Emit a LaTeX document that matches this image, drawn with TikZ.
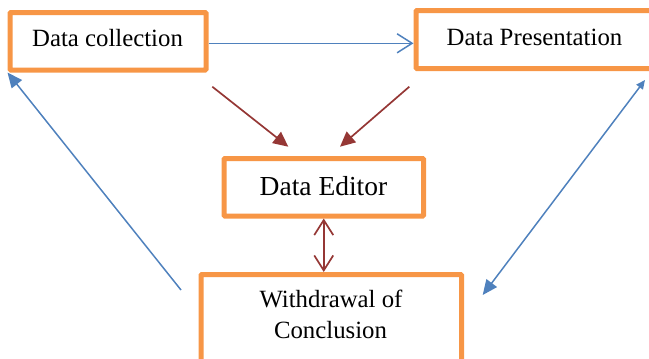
\documentclass[tikz,border=0pt]{standalone}
\usepackage{fontspec}
\setmainfont{Liberation Serif}
\usetikzlibrary{arrows.meta,calc}
\definecolor{boxorange}{HTML}{F79646}
\definecolor{lineblue}{HTML}{4F81BD}
\definecolor{linebrown}{HTML}{953735}
\begin{document}
\begin{tikzpicture}[x=1pt,y=-1pt,
  box/.style={draw=boxorange,line width=5pt,fill=white,inner sep=0pt,rounded corners=1pt},
  lbl/.style={anchor=base,inner sep=0pt,font=\fontsize{24.8}{31}\selectfont},
  blueline/.style={draw=lineblue,line width=1.5pt},
  brownline/.style={draw=linebrown,line width=1.7pt},
  openhead/.tip={Straight Barb[length=15pt,width=19pt]},
  bluehead/.tip={Triangle[length=15pt,width=13pt]},
  smallbluehead/.tip={Triangle[length=9pt,width=8pt]},
  brownhead/.tip={Triangle[length=15pt,width=14pt]}
]
\path[use as bounding box] (0,0) rectangle (649,359);
\clip (0,0) rectangle (649,359);

% boxes
\node[box,minimum width=196pt,minimum height=57.5pt] (dc) at (108,41.25) {};
\node[box,minimum width=237pt,minimum height=58pt] (dp) at (534.5,39.5) {};
\node[box,minimum width=199.5pt,minimum height=57.5pt] (de) at (323.75,187.25) {};
\node[box,minimum width=260.5pt,minimum height=95.5pt] (wc) at (331.25,322.25) {};

% texts
\node[lbl] (dct) at (107.5,46.7) {Data collection};
\node[lbl] (dpt) at (534.5,45) {Data Presentation};
\node[lbl,font=\fontsize{27.5}{33}\selectfont] (det) at (323.5,195.7) {Data Editor};
\node[lbl] (wct1) at (331,307) {Withdrawal of};
\node[lbl] (wct2) at (330.5,338) {Conclusion};

% connectors
\coordinate (ay) at (0,43.3);
\draw[blueline,-{openhead}] (dc.east |- ay) -- (dp.west |- ay);

\coordinate (b1s) at (212.3,86.7);
\coordinate (b1e) at (288.3,146.7);
\coordinate (b2s) at (409.3,86.7);
\coordinate (b2e) at (340,146.7);
\draw[brownline,-{brownhead}] (b1s) -- (b1e);
\draw[brownline,-{brownhead}] (b2s) -- (b2e);

\draw[brownline,{openhead}-{openhead}] (de.south) -- (de.south |- wc.north);

\coordinate (l1) at (181,290);
\draw[blueline,-{bluehead}] (l1) -- (dc.south west);

\coordinate (r1) at (645,80);
\coordinate (r2) at (482.7,295);
\draw[blueline,{smallbluehead}-{bluehead}] (r1) -- (r2);
\end{tikzpicture}
\end{document}
